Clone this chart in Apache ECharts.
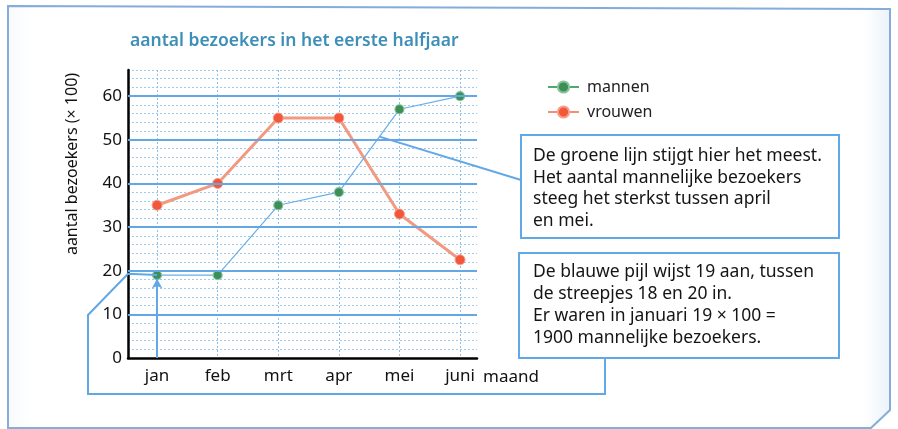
<!DOCTYPE html>
<html>
<head>
<meta charset="utf-8">
<title>aantal bezoekers</title>
<script src="https://cdn.jsdelivr.net/npm/echarts@6/dist/echarts.min.js"></script>
<style>
  html, body { margin: 0; padding: 0; background: #fff; }
  #chart { width: 898px; height: 429px; }
</style>
</head>
<body>
<div id="chart"></div>
<script>
// maanden op de x-as
const months = ["jan", "feb", "mrt", "apr", "mei", "juni"];
const monthIdx = [0, 1, 2, 3, 4, 5];
// aantal bezoekers (x 100)
const mannen = [19, 19, 35, 38, 57, 60];
const vrouwen = [35, 40, 55, 55, 33, 22.5];
// doorgetrokken lijnen op elke 10
const majorLines = [10, 20, 30, 40, 50, 60];

const blue = "#62a8e6";
const font = "Noto Sans";

const box1Text = [
  "De groene lijn stijgt hier het meest.",
  "Het aantal mannelijke bezoekers",
  "steeg het sterkst tussen april",
  "en mei."
];
const box2Text = [
  "De blauwe pijl wijst 19 aan, tussen",
  "de streepjes 18 en 20 in.",
  "Er waren in januari 19 × 100 =",
  "1900 mannelijke bezoekers."
];

const myChart = echarts.init(document.getElementById("chart"));

let option = {
  animation: false,
  textStyle: { fontFamily: font },
  title: {
    text: "aantal bezoekers in het eerste halfjaar",
    left: 125,
    top: 27,
    textStyle: { color: "#3d8fb9", fontSize: 17.5, fontWeight: 600, fontFamily: font }
  },
  legend: {
    orient: "vertical",
    left: 542,
    top: 74,
    itemWidth: 31,
    itemHeight: 14,
    itemGap: 9,
    textStyle: { fontSize: 16, color: "#222", fontFamily: font, padding: [0, 0, 0, 3] },
    data: [
      { name: "mannen", lineStyle: { color: "#4fa96c", width: 2 } },
      { name: "vrouwen", lineStyle: { color: "#f58f74", width: 2 } }
    ]
  },
  grid: { left: 128, right: 421, top: 70, bottom: 71 },
  xAxis: {
    type: "value",
    min: -0.48,
    max: 5.28,
    name: "maand",
    nameLocation: "end",
    nameGap: 6,
    nameTextStyle: { fontSize: 17, color: "#111", verticalAlign: "top", padding: [11, 0, 0, 0] },
    axisLine: { onZero: false, lineStyle: { color: "#000", width: 2.5 } },
    axisTick: { show: false, customValues: monthIdx },
    axisLabel: {
      customValues: monthIdx,
      margin: 10,
      fontSize: 17,
      color: "#111",
      formatter: (v) => months[v]
    },
    splitLine: { show: true, lineStyle: { color: "#8dc0ec", type: [2, 2], width: 1 } }
  },
  yAxis: {
    type: "value",
    min: 0,
    max: 66,
    interval: 2,
    axisLine: { show: true, onZero: false, lineStyle: { color: "#000", width: 2.5 } },
    axisTick: { show: false },
    axisLabel: {
      margin: 6,
      fontSize: 17,
      color: "#111",
      formatter: (v) => (v % 10 === 0 ? v : "")
    },
    splitLine: { show: true, lineStyle: { color: "#9ccaf0", type: [2, 2], width: 1 } }
  },
  series: [
    {
      // alleen voor de dikke rasterlijnen
      name: "raster",
      type: "line",
      data: [],
      silent: true,
      z: 1,
      markLine: {
        silent: true,
        symbol: "none",
        label: { show: false },
        lineStyle: { color: blue, type: "solid", width: 2 },
        data: majorLines.map((v) => ({ yAxis: v }))
      }
    },
    {
      name: "vrouwen",
      type: "line",
      data: monthIdx.map((m, i) => [m, vrouwen[i]]),
      symbol: "circle",
      symbolSize: 10,
      z: 3,
      lineStyle: { color: "#f29a80", width: 3 },
      itemStyle: { color: "#f2573b", borderColor: "#f7a08a", borderWidth: 1 }
    },
    {
      name: "mannen",
      type: "line",
      data: monthIdx.map((m, i) => [m, mannen[i]]),
      symbol: "circle",
      symbolSize: 9,
      z: 4,
      lineStyle: { color: "#6aaee6", width: 1.2 },
      itemStyle: { color: "#3b8f57", borderColor: "#86c49c", borderWidth: 1.2 },
      // blauwe pijl bij januari
      markLine: {
        silent: true,
        symbol: ["none", "arrow"],
        symbolSize: [8, 10],
        label: { show: false },
        lineStyle: { color: blue, type: "solid", width: 2 },
        data: [[{ coord: [0, 0] }, { coord: [0, mannen[0] - 0.8] }]]
      }
    }
  ]
};

option && myChart.setOption(option);

// ankerpunten van de tekstvakken via de schalen van de grafiek
const toPx = (p) => myChart.convertToPixel({ xAxisIndex: 0, yAxisIndex: 0 }, p);
const janPt = toPx([0, mannen[0]]);
const axisPt = toPx([-0.48, mannen[0] + 0.3]);
const t = 0.67;
const risePt = toPx([3 + t, mannen[3] + t * (mannen[4] - mannen[3])]);

const box1 = { x: 521, y: 135, w: 318, h: 103 };
const box2 = { x: 519, y: 253, w: 320, h: 105 };

myChart.setOption({
  graphic: [
    {
      // buitenkader
      type: "polygon",
      z: -10,
      silent: true,
      shape: { points: [[8, 6], [890, 9], [890, 410], [871, 428], [8, 428]] },
      style: {
        fill: new echarts.graphic.LinearGradient(0, 0, 1, 0, [
          { offset: 0, color: "#f7fafd" },
          { offset: 0.03, color: "#ffffff" },
          { offset: 0.97, color: "#ffffff" },
          { offset: 1, color: "#eaf2fa" }
        ]),
        stroke: "#86acd9",
        lineWidth: 2
      }
    },
    {
      type: "polyline",
      z: 5,
      silent: true,
      shape: { points: [risePt, [box1.x, box1.y + 45]] },
      style: { stroke: blue, lineWidth: 2, fill: null }
    },
    {
      type: "polyline",
      z: 5,
      silent: true,
      shape: {
        points: [
          janPt,
          axisPt,
          [88, 315],
          [88, 394],
          [605, 394],
          [605, box2.y + box2.h]
        ]
      },
      style: { stroke: blue, lineWidth: 2, fill: null }
    },
    {
      type: "rect",
      z: 6,
      shape: { x: box1.x, y: box1.y, width: box1.w, height: box1.h },
      style: { fill: "#fff", stroke: blue, lineWidth: 2 }
    },
    {
      type: "text",
      z: 7,
      x: box1.x + 12,
      y: box1.y + 10,
      style: { text: box1Text.join("\n"), font: "17.5px " + font, lineHeight: 21.7, fill: "#151515" }
    },
    {
      type: "rect",
      z: 6,
      shape: { x: box2.x, y: box2.y, width: box2.w, height: box2.h },
      style: { fill: "#fff", stroke: blue, lineWidth: 2 }
    },
    {
      type: "text",
      z: 7,
      x: box2.x + 14,
      y: box2.y + 8,
      style: { text: box2Text.join("\n"), font: "17.5px " + font, lineHeight: 22, fill: "#151515" }
    },
    {
      // naam van de y-as
      type: "text",
      z: 7,
      x: 72,
      y: 164,
      rotation: Math.PI / 2,
      style: {
        text: "aantal bezoekers (× 100)",
        font: "16px " + font,
        fill: "#111",
        align: "center",
        verticalAlign: "middle"
      }
    }
  ]
});
</script>
</body>
</html>
